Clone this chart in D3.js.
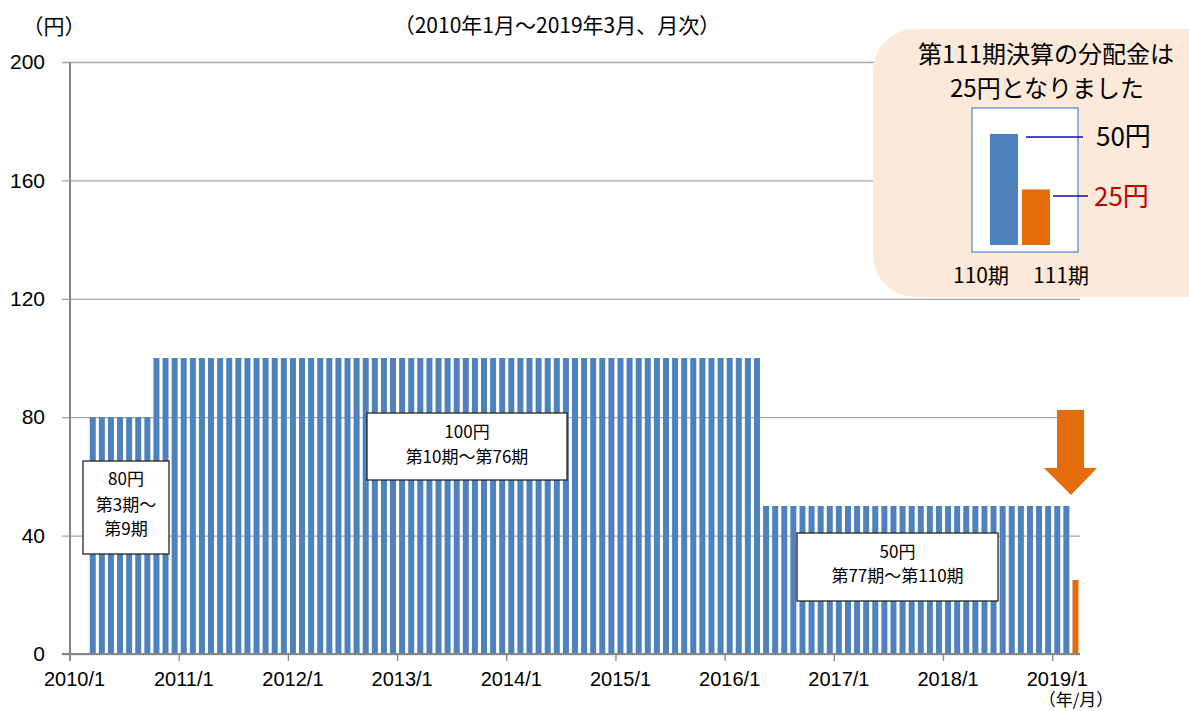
<!DOCTYPE html>
<html>
<head>
<meta charset="utf-8">
<script src="https://cdn.jsdelivr.net/npm/d3@7"></script>
<style>
	body { margin: 0; background: #fff; }
	svg { display: block; font-family: "Noto Sans CJK JP", "Noto Sans", sans-serif; }
</style>
</head>
<body>
<script>
// monthly categories, 2010/1 .. 2019/3
const months = d3.timeMonth.range(new Date(2010, 0, 1), new Date(2019, 3, 1)).map(d3.timeFormat('%Y/%-m'));

// distribution per month (yen); first two months have no bar
const values = [
	null, null, 80, 80, 80, 80, 80, 80, 80, 100, 100, 100,          // 2010
	100, 100, 100, 100, 100, 100, 100, 100, 100, 100, 100, 100,     // 2011
	100, 100, 100, 100, 100, 100, 100, 100, 100, 100, 100, 100,     // 2012
	100, 100, 100, 100, 100, 100, 100, 100, 100, 100, 100, 100,     // 2013
	100, 100, 100, 100, 100, 100, 100, 100, 100, 100, 100, 100,     // 2014
	100, 100, 100, 100, 100, 100, 100, 100, 100, 100, 100, 100,     // 2015
	100, 100, 100, 100, 50, 50, 50, 50, 50, 50, 50, 50,             // 2016
	50, 50, 50, 50, 50, 50, 50, 50, 50, 50, 50, 50,                 // 2017
	50, 50, 50, 50, 50, 50, 50, 50, 50, 50, 50, 50,                 // 2018
	50, 50, 25                                                      // 2019
];

const xTickLabels = ['2010/1', '2011/1', '2012/1', '2013/1', '2014/1', '2015/1', '2016/1', '2017/1', '2018/1', '2019/1'];
const yTicks = [0, 40, 80, 120, 160, 200];

const insetLabels = ['110期', '111期'];
const insetValues = [50, 25];

const width = 1189;
const height = 711;
const blue = '#4f81bd';
const orange = '#e46c0a';

const svg = d3.select('body')
	.append('svg')
	.attr('width', width)
	.attr('height', height);

const plotLeft = 70, plotRight = 1080, plotTop = 62, plotBottom = 654;

const x = d3.scaleBand()
	.domain(months)
	.range([plotLeft, plotRight])
	.paddingInner(0.34)
	.paddingOuter(0.17);

const y = d3.scaleLinear()
	.domain([0, 200])
	.range([plotBottom, plotTop]);

// gridlines + y labels
const yAxis = svg.append('g')
	.attr('transform', 'translate(' + plotRight + ',0)')
	.call(d3.axisLeft(y).tickValues(yTicks).tickSize(plotRight - 62).tickPadding(17));
yAxis.select('.domain').remove();
yAxis.selectAll('line').attr('stroke', '#a6a6a6').attr('stroke-width', 1.3);
yAxis.selectAll('text').attr('font-size', 21).attr('fill', '#000');

// bars
svg.append('g')
	.selectAll('rect')
	.data(values.map(function(v, i) { return {m: months[i], v: v, last: i === values.length - 1}; }).filter(function(d) { return d.v !== null; }))
	.enter()
	.append('rect')
	.attr('x', function(d) { return x(d.m); })
	.attr('width', x.bandwidth())
	.attr('y', function(d) { return y(d.v); })
	.attr('height', function(d) { return plotBottom - y(d.v); })
	.attr('fill', function(d) { return d.last ? orange : blue; });

// x axis: ticks at the start of january, labels at its middle
const xAxis = svg.append('g')
	.attr('transform', 'translate(0,' + plotBottom + ')')
	.call(d3.axisBottom(x).tickValues(xTickLabels).tickSize(7).tickPadding(11));
xAxis.select('.domain').remove();
xAxis.selectAll('line').attr('stroke', '#868686').attr('stroke-width', 1.3)
	.attr('transform', 'translate(' + (-x.step() / 2) + ',0)');
xAxis.selectAll('text').attr('font-size', 20).attr('fill', '#000');

svg.append('line')
	.attr('x1', 62).attr('x2', plotRight)
	.attr('y1', plotBottom).attr('y2', plotBottom)
	.attr('stroke', '#868686').attr('stroke-width', 2);
svg.append('line')
	.attr('x1', plotLeft).attr('x2', plotLeft)
	.attr('y1', plotTop).attr('y2', plotBottom + 7)
	.attr('stroke', '#868686').attr('stroke-width', 2);

// titles
svg.append('text').attr('x', 54).attr('y', 34).attr('text-anchor', 'middle')
	.attr('font-size', 21).text('（円）');
svg.append('text').attr('x', 557).attr('y', 33).attr('text-anchor', 'middle')
	.attr('font-size', 21).text('（2010年1月～2019年3月、月次）');
svg.append('text').attr('x', 1076).attr('y', 706).attr('text-anchor', 'middle')
	.attr('font-size', 17).text('（年/月）');

// period boxes
const boxes = [
	{x: 83, y: 461, w: 86, h: 93, lines: ['80円', '第3期～', '第9期'], ly: [485, 511, 535]},
	{x: 367, y: 413, w: 200, h: 67, lines: ['100円', '第10期～第76期'], ly: [438, 463]},
	{x: 797, y: 533, w: 201, h: 68, lines: ['50円', '第77期～第110期'], ly: [558, 582]}
];
boxes.forEach(function(b) {
	svg.append('rect').attr('x', b.x).attr('y', b.y).attr('width', b.w).attr('height', b.h)
		.attr('fill', '#fff').attr('stroke', '#262626').attr('stroke-width', 1.3);
	b.lines.forEach(function(t, i) {
		svg.append('text').attr('x', b.x + b.w / 2).attr('y', b.ly[i]).attr('text-anchor', 'middle')
			.attr('font-size', 17).text(t);
	});
});

// down arrow
svg.append('path')
	.attr('d', 'M1057,410 L1084,410 L1084,468 L1097,468 L1071,495 L1044,468 L1057,468 Z')
	.attr('fill', orange);

// callout
svg.append('rect').attr('x', 873).attr('y', 29).attr('width', 360).attr('height', 268)
	.attr('rx', 42).attr('fill', '#fde9d9');
svg.append('text').attr('x', 1046).attr('y', 63).attr('text-anchor', 'middle')
	.attr('font-size', 24).text('第111期決算の分配金は');
svg.append('text').attr('x', 1047).attr('y', 97).attr('text-anchor', 'middle')
	.attr('font-size', 24).text('25円となりました');

svg.append('rect').attr('x', 972).attr('y', 108).attr('width', 106).attr('height', 144)
	.attr('fill', '#fff').attr('stroke', '#6f9bd1').attr('stroke-width', 1.5);

const xIn = d3.scaleBand().domain(insetLabels).range([988, 1052]).paddingInner(0.125).paddingOuter(0.0625);
const yIn = d3.scaleLinear().domain([0, 50]).range([245, 134]);
svg.append('g').selectAll('rect')
	.data(insetLabels)
	.enter()
	.append('rect')
	.attr('x', function(d) { return xIn(d); })
	.attr('width', xIn.bandwidth())
	.attr('y', function(d, i) { return yIn(insetValues[i]); })
	.attr('height', function(d, i) { return 245 - yIn(insetValues[i]); })
	.attr('fill', function(d, i) { return i ? orange : blue; });

const leaders = [
	{x1: 1026, x2: 1083, y: 137, tx: 1096, ty: 146, c: '#000'},
	{x1: 1053, x2: 1088, y: 196, tx: 1094, ty: 206, c: '#c00000'}
];
leaders.forEach(function(l, i) {
	svg.append('line').attr('x1', l.x1).attr('x2', l.x2).attr('y1', l.y).attr('y2', l.y)
		.attr('stroke', '#1010a0').attr('stroke-width', 1.5);
	svg.append('text').attr('x', l.tx).attr('y', l.ty).attr('font-size', 26).attr('fill', l.c)
		.text(insetValues[i] + '円');
});

svg.append('text').attr('x', 981).attr('y', 283).attr('text-anchor', 'middle').attr('font-size', 21).text(insetLabels[0]);
svg.append('text').attr('x', 1061).attr('y', 283).attr('text-anchor', 'middle').attr('font-size', 21).text(insetLabels[1]);
</script>
</body>
</html>
